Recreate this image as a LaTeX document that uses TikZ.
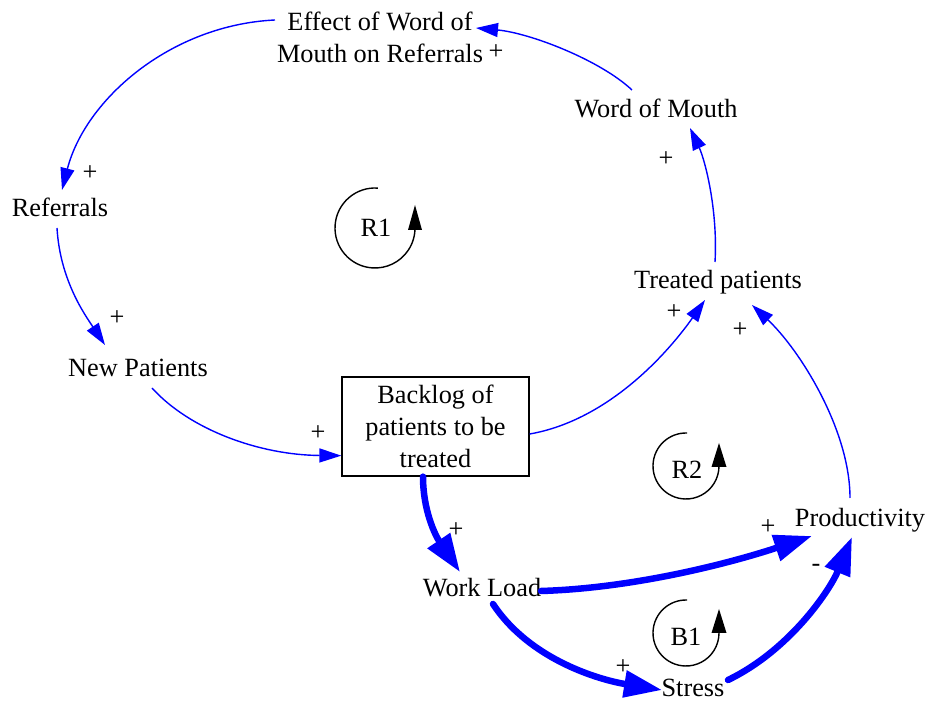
\documentclass[tikz,border=0pt]{standalone}
\usepackage{fontspec}
\setmainfont{Liberation Serif}
\usetikzlibrary{arrows.meta,calc}
\begin{document}
\begin{tikzpicture}[x=1pt,y=1pt,
  every node/.style={font=\fontsize{26.3}{32}\selectfont, inner sep=0pt},
  var/.style={anchor=base},
  thinarr/.style={draw=blue, line width=1.4pt, -{Triangle[length=22pt,width=14pt]}},
  thickarr/.style={draw=blue, line width=6.5pt, line cap=round, -{Triangle[length=38pt,width=26pt]}},
  pol/.style={anchor=center},
  loopline/.style={draw=black, line width=1.4pt},
  looptip/.style={fill=black}]
\useasboundingbox (0,0) rectangle (929,701);
% variables
\node[align=center] (eff) at (380,664) {Effect of Word of\\Mouth on Referrals};
\node[var] (wom) at (656,583) {Word of Mouth};
\node[var] (ref) at (60,484) {Referrals};
\node[var] (np) at (138,324) {New Patients};
\node[draw, line width=1.3pt, minimum width=187pt, minimum height=99pt, align=center] (box) at (435.5,274.5) {Backlog of\\patients to be\\treated};
\node[var] (tp) at (718,412) {Treated patients};
\node[var] (prod) at (860,174) {Productivity};
\node[var] (wl) at (482,104) {Work Load};
\node[var] (stress) at (693,4) {Stress};
% thin links
\draw[thinarr] ($(wom.base)+(-24,28)$) .. controls (600,641) and (530,668) .. ($(eff.center)+(96,9)$);
\draw[thinarr] ($(eff.center)+(-105,17)$) .. controls (170,676) and (85,601) .. ($(ref.base)+(2,27)$);
\draw[thinarr] ($(ref.base)+(-3,-11)$) .. controls (60,421) and (85,386) .. ($(np.base)+(-33,32)$);
\draw[thinarr] ($(np.base)+(14,-11)$) .. controls (190,271) and (260,246) .. ($(box.south west)+(0,21)$);
\draw[thinarr] ($(box.east)+(0,-7.5)$) .. controls (610,281) and (670,351) .. ($(tp.base)+(-13,-11)$);
\draw[thinarr] ($(tp.base)+(-3,27)$) .. controls (718,491) and (705,541) .. ($(wom.base)+(34,-10)$);
\draw[thinarr] ($(prod.base)+(-10,29)$) .. controls (850,271) and (800,351) .. ($(tp.base)+(34,-16)$);
% thick links
\draw[thickarr] ($(box.south)+(-12.5,0)$) .. controls (423,191) and (435,166) .. ($(wl.base)+(-22,25)$);
\draw[thickarr] ($(wl.base)+(59,6)$) .. controls (640,113) and (740,141) .. ($(prod.base)+(-48,-9)$);
\draw[thickarr] ($(wl.base)+(11,-7)$) .. controls (530,41) and (600,21) .. ($(stress.base)+(-31,7)$);
\draw[thickarr] ($(stress.base)+(35,17)$) .. controls (790,51) and (830,111) .. ($(prod.base)+(-8,-10)$);
% polarities
\node[pol] (p1) at (496,649) {+};
\node[pol] (p2) at (90,528) {+};
\node[pol] (p3) at (117,383) {+};
\node[pol] (p4) at (318,268) {+};
\node[pol] (p5) at (674,389) {+};
\node[pol] (p6) at (666,542) {+};
\node[pol] (p7) at (740,371) {+};
\node[pol] (p8) at (456,171) {+};
\node[pol] (p9) at (768,174) {+};
\node[pol] (p10) at (623,34) {+};
\node[pol] (m1) at (816,133) {-};
% loop symbols
\node (r1) at (376,473) {R1};
\draw[loopline] (375,473) ++(86:40) arc[start angle=86,end angle=360,radius=40];
\fill[looptip] (408,471) -- (422,471) -- (415,496) -- cycle;
\node (r2) at (687,231) {R2};
\draw[loopline] (686,235) ++(88:33) arc[start angle=88,end angle=360,radius=33];
\fill[looptip] (711.5,234) -- (726.5,234) -- (719,258) -- cycle;
\node (b1) at (686,64) {B1};
\draw[loopline] (686,68) ++(88:33) arc[start angle=88,end angle=360,radius=33];
\fill[looptip] (711.5,68) -- (726.5,68) -- (719,92) -- cycle;
\end{tikzpicture}
\end{document}
